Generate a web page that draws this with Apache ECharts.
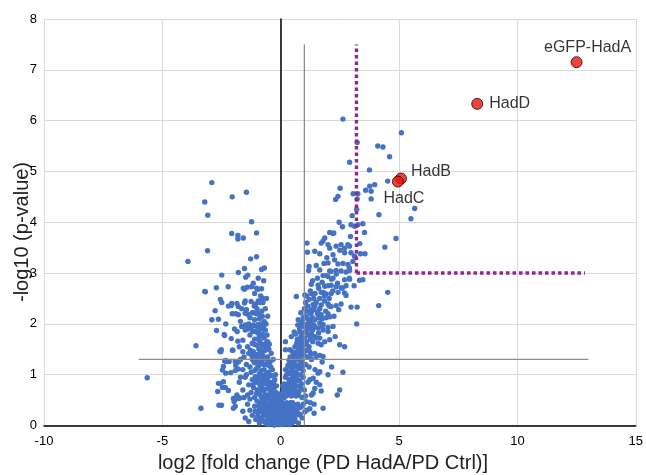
<!DOCTYPE html>
<html><head><meta charset="utf-8">
<script src="https://cdn.jsdelivr.net/npm/echarts@6/dist/echarts.min.js"></script>
<style>html,body{margin:0;padding:0;background:#fff}#c{width:646px;height:475px}</style>
</head><body><div id="c"></div>
<script>
// ---- data ----
const xTitle = 'log2 [fold change (PD HadA/PD Ctrl)]';
const yTitle = '-log10 (p-value)';
const xMin = -10, xMax = 15, xStep = 5;
const yMin = 0, yMax = 8, yStep = 1;

const leftArm = [[-2.91,4.78],[-3.21,4.40],[-3.08,4.14],[-2.05,4.50],[-1.45,4.59],[-1.23,4.01],[-2.07,3.78],[-1.81,3.74],[-1.81,3.67],[-1.58,3.69],[-3.09,3.44],[-3.92,3.23],[-1.27,3.28],[-1.02,3.32],[-0.69,3.10],[-1.53,3.09],[-1.79,3.01],[-2.49,2.96],[-1.48,2.92],[-1.39,2.96],[-1.16,2.80],[-2.72,2.71],[-3.21,2.64],[-3.18,2.63],[-2.22,2.73],[-1.58,2.70],[-1.53,2.68],[-1.41,2.72],[-1.23,2.73],[-1.02,2.70],[-0.95,2.68],[-0.81,2.69],[-0.78,2.51],[-2.55,2.48],[-2.49,2.42],[-2.07,2.40],[-1.53,2.41],[-1.25,2.44],[-1.06,2.39],[-0.87,2.42],[-3.58,1.57],[-5.64,0.94],[-3.37,0.34],[-2.5,0.40],[-2.91,2.08],[-2.77,2.26],[-2.63,2.09],[-2.71,1.87],[-2.39,1.79],[-2.32,2.00],[-2.09,1.71],[-2.02,1.48],[-2.51,1.49],[-2.53,1.45],[-2.28,1.26],[-2.42,1.16],[-2.46,1.09],[-2.11,1.04],[-2.55,0.83],[-2.46,0.75],[-2.66,0.67],[-2.21,0.69],[-1.92,0.54],[-1.95,0.50],[-2.0,0.34],[-1.73,0.54],[-2.21,2.35],[-2.09,2.36],[-1.79,2.34],[-1.90,2.2],[-1.79,2.18],[-1.50,2.21],[-1.39,2.19],[-1.16,2.22],[-1.02,2.2],[-1.65,1.95],[-1.50,1.98],[-1.44,1.93],[-1.37,1.9],[-1.16,1.96],[-0.95,1.99],[-0.74,1.94],[-1.84,1.85],[-1.81,1.66],[-2.37,1.27],[-2.32,1.28],[-2.18,1.26],[-1.92,1.26],[-1.79,1.25],[-1.92,1.08],[-1.79,1.11],[-2.63,0.83],[-2.42,0.86],[-2.34,0.75],[-2.0,0.53],[-1.97,0.47],[-1.79,0.53],[-1.92,0.38],[-2.61,0.40],[-0.81,3.07],[-1.02,3.79],[-2.37,1.77],[-2.57,1.46],[-2.04,1.48],[-2.32,1.03],
[-0.3,0.55],[-0.5,0.6],[-0.7,0.58],[-0.9,0.62],[-1.1,0.55],[-1.25,0.65],[-0.4,0.7],[-0.6,0.72],[-0.8,0.75],[-1.0,0.7],[-1.4,0.6],[-1.6,0.7],[-0.45,0.85],[-0.65,0.82],[-0.85,0.88],[-1.05,0.85],[-1.2,0.9],[-1.35,0.8],[-1.5,0.95],[-0.55,0.95],[-0.75,0.98],[-0.95,0.95],[-1.75,0.85],[-0.25,0.9],[-0.2,0.65],[-1.15,0.75],[-0.35,0.78],[-1.85,0.6],[-1.3,0.52],
[-0.5,1.05],[-0.7,1.1],[-0.9,1.02],[-1.1,1.08],[-1.3,1.15],[-0.6,1.2],[-0.8,1.25],[-1.0,1.22],[-1.2,1.3],[-1.45,1.2],[-1.6,1.1],[-0.55,1.35],[-0.75,1.38],[-0.95,1.4],[-1.15,1.45],[-1.35,1.42],[-1.55,1.35],[-1.7,1.3],[-0.65,1.48],[-0.85,1.5],[-1.05,1.32],[-1.9,1.18],[-0.45,1.25],[-1.25,1.05],
[-0.6,1.55],[-0.8,1.6],[-1.0,1.58],[-1.2,1.62],[-1.4,1.55],[-0.7,1.72],[-0.9,1.75],[-1.1,1.7],[-1.3,1.78],[-1.6,1.68],[-0.65,1.88],[-0.85,1.9],[-1.05,1.85],[-1.25,1.92],[-1.5,1.88],[-1.75,1.55],[-0.75,1.98],[-1.15,1.98],[-1.95,1.9],[-0.55,1.65],
[-0.7,2.05],[-0.9,2.1],[-1.1,2.08],[-1.3,2.12],[-0.8,2.25],[-1.0,2.3],[-1.2,2.22],[-1.45,2.28],[-0.75,2.42],[-0.95,2.45],[-1.7,2.05],[-1.85,2.4],[-2.05,2.2],[-0.65,2.3],[-0.85,2.55],[-1.1,2.6],[-0.72,2.85],[-0.95,2.9]];

const leftCore = [[-0.22,0.52],[-0.32,0.62],[-0.42,0.66],[-0.52,0.53],[-0.62,0.6],[-0.72,0.68],[-0.82,0.55],[-0.92,0.7],[-1.02,0.62],[-0.28,0.74],[-0.48,0.78],[-0.58,0.88],[-0.68,0.92],[-0.78,0.84],[-0.88,0.8],[-0.98,0.9],[-1.08,0.96],[-1.18,0.8],[-0.38,0.98],[-0.3,0.84],[-0.22,1.0],[-0.35,1.1],[-0.42,1.15],[-0.62,1.02],[-0.72,1.2],[-0.82,1.08],[-0.92,1.18],[-1.02,1.12],[-1.12,1.24],[-0.5,1.18],[-0.58,1.3],[-0.68,1.32],[-0.88,1.35],[-0.98,1.28],[-1.08,1.4],[-1.22,1.38],[-0.4,1.42],[-0.5,1.5],[-0.78,1.46],[-0.92,1.5],[-1.28,1.48],[-0.48,1.6],[-0.62,1.62],[-0.72,1.58],[-0.88,1.66],[-0.98,1.7],[-1.12,1.6],[-0.58,1.78],[-0.78,1.8],[-0.96,1.82],[-1.18,1.85],[-0.62,2.0],[-0.82,2.0],[-1.0,1.95],[-0.55,2.15],[-0.78,2.15],[-0.95,2.2],[-1.12,2.35],[-0.6,2.5],[-1.35,2.0],[-1.5,2.45],[-1.65,2.3],[-1.6,1.45],[-1.45,1.0],[-1.55,0.55],[-1.7,0.95],[-0.26,0.58],[-0.18,0.78],[-0.32,1.3]];

const rightArm = [[2.63,6.03],[5.10,5.76],[3.23,5.57],[4.10,5.50],[4.32,5.48],[4.60,5.29],[2.91,5.18],[3.75,5.03],[4.52,4.81],[3.97,4.74],[3.76,4.71],[3.59,4.63],[3.82,4.61],[2.51,4.67],[2.42,4.51],[2.32,4.45],[3.06,4.56],[3.26,4.56],[3.23,4.46],[3.82,4.46],[5.66,4.27],[5.50,4.07],[4.15,4.15],[3.21,4.25],[3.02,4.13],[2.47,4.00],[2.61,3.91],[2.97,3.95],[3.12,3.92],[3.26,3.95],[3.47,3.97],[2.07,3.80],[2.24,3.79],[3.54,3.80],[4.87,3.68],[4.40,3.51],[3.34,3.58],[3.56,3.38],[3.37,3.38],[2.95,3.72],[2.91,3.53],[2.21,3.78],[1.86,3.69],[1.71,3.59],[1.79,3.63],[2.0,3.56],[2.07,3.49],[2.34,3.53],[2.55,3.56],[2.70,3.49],[2.84,3.56],[1.13,3.41],[1.44,3.43],[1.65,3.38],[2.21,3.36],[2.28,3.26],[2.70,3.40],[2.97,3.40],[3.12,3.33],[3.05,3.23],[1.83,3.19],[2.0,3.2],[2.42,3.18],[2.63,3.19],[2.84,3.17],[1.18,3.05],[1.65,3.06],[2.07,3.04],[2.13,3.03],[2.34,3.05],[2.55,3.04],[2.76,3.02],[2.91,3.05],[1.79,2.95],[2.0,2.93],[2.21,2.9],[2.70,2.87],[2.91,2.88],[3.33,2.86],[3.47,2.87],[1.29,2.78],[1.58,2.76],[1.86,2.74],[2.13,2.76],[2.34,2.73],[2.55,2.71],[2.76,2.75],[0.66,2.54],[1.02,2.57],[1.29,2.6],[1.37,2.58],[1.71,2.62],[1.92,2.59],[2.13,2.6],[2.42,2.62],[2.70,2.61],[2.76,2.56],[4.52,2.62],[4.14,2.36],[2.97,2.33],[3.23,2.33],[1.37,2.38],[1.44,2.35],[1.71,2.37],[2.0,2.39],[2.13,2.34],[2.34,2.36],[2.55,2.39],[1.29,2.22],[1.58,2.24],[1.71,2.18],[2.0,2.2],[2.07,2.14],[1.92,2.12],[0.74,2.08],[1.13,2.1],[1.23,2.06],[1.44,2.08],[1.65,2.02],[1.79,1.99],[3.21,2.0],[1.08,1.95],[1.23,1.93],[1.44,1.94],[1.58,1.92],[2.0,1.93],[0.20,1.49],[0.57,1.84],[0.81,1.84],[0.76,1.65],[0.90,1.62],[2.07,1.69],[2.49,1.59],[2.70,1.55],[1.79,1.88],[2.0,1.85],[2.21,1.95],[1.16,1.92],[1.23,1.78],[1.44,1.75],[1.65,1.72],[1.58,1.62],[1.71,1.59],[1.86,1.65],[1.02,1.48],[1.23,1.45],[1.44,1.42],[1.65,1.38],[1.79,1.36],[1.50,1.36],[1.29,1.4],[2.63,1.05],[2.0,1.0],[1.58,1.03],[1.65,1.06],[1.37,0.93],[1.23,0.90],[2.49,0.70],[2.39,0.60],[1.65,0.80],[1.71,0.68],[1.44,0.73],[1.37,0.64],[1.79,0.34],[1.41,0.42],[1.23,0.33],[1.41,0.24],[1.08,0.47],[1.02,0.27],[0.87,0.37],[0.74,0.21],[1.20,3.13],[1.11,3.59],[0.39,1.49],[0.53,1.23],[0.2,1.65],
[0.15,0.55],[0.3,0.6],[0.45,0.58],[0.6,0.65],[0.75,0.6],[0.9,0.55],[0.25,0.75],[0.4,0.72],[0.55,0.8],[0.7,0.78],[0.85,0.75],[1.0,0.7],[0.35,0.9],[0.5,0.95],[0.65,0.92],[0.8,0.88],[0.95,0.95],[1.15,0.85],[1.3,0.6],[0.2,0.95],[1.05,0.58],[1.5,0.85],[0.12,0.7],
[0.35,1.05],[0.5,1.1],[0.65,1.05],[0.8,1.12],[0.95,1.08],[0.45,1.25],[0.6,1.22],[0.75,1.3],[0.9,1.28],[1.05,1.2],[1.2,1.15],[0.55,1.4],[0.7,1.45],[0.85,1.42],[1.0,1.38],[1.15,1.35],[1.3,1.3],[0.4,1.35],[1.1,1.48],[0.3,1.18],[1.45,1.1],[1.75,1.25],[2.15,1.15],
[0.6,1.55],[0.75,1.58],[0.9,1.52],[1.05,1.6],[1.2,1.55],[1.35,1.65],[0.7,1.7],[0.85,1.75],[1.0,1.72],[1.15,1.78],[1.3,1.8],[1.5,1.72],[0.8,1.9],[0.95,1.95],[1.1,1.88],[1.25,1.92],[1.4,1.98],[1.6,1.82],[1.75,1.95],[0.45,1.75],[2.3,1.75],
[0.9,2.05],[1.05,2.15],[1.2,2.08],[1.35,2.12],[1.55,2.2],[1.75,2.1],[1.9,2.25],[1.0,2.3],[1.15,2.35],[1.3,2.28],[1.5,2.42],[1.65,2.3],[1.85,2.45],[2.05,2.35],[2.25,2.15],[2.45,2.28],[0.85,2.22],
[1.1,2.55],[1.25,2.65],[1.45,2.6],[1.6,2.7],[1.8,2.62],[2.0,2.75],[2.2,2.65],[2.4,2.8],[2.6,2.7],[1.35,2.85],[1.55,2.9],[1.75,2.82],[1.95,2.95],[2.15,2.88],[2.35,2.98],[2.9,2.9],[3.1,2.75],[1.5,3.15],[1.95,3.3],[2.5,3.45],[2.9,3.1]];

const rightCore = [[0.05,0.55],[0.1,0.62],[0.18,0.68],[0.22,0.58],[0.28,0.66],[0.35,0.7],[0.42,0.64],[0.5,0.68],[0.58,0.72],[0.65,0.58],[0.08,0.78],[0.15,0.82],[0.3,0.82],[0.38,0.8],[0.45,0.88],[0.52,0.84],[0.6,0.86],[0.72,0.9],[0.78,0.68],[0.88,0.82],[0.25,1.0],[0.4,1.02],[0.55,1.02],[0.7,1.0],[0.85,1.0],[0.2,1.1],[0.38,1.15],[0.52,1.18],[0.68,1.15],[0.82,1.2],[0.95,1.18],[0.48,1.32],[0.62,1.32],[0.8,1.35],[0.92,1.4],[0.65,1.38],[0.35,1.28],[0.5,1.45],[0.78,1.5],[0.98,1.45],
[0.68,1.62],[0.82,1.65],[0.95,1.68],[1.1,1.65],[1.25,1.7],[0.62,1.8],[0.92,1.82],[1.05,1.85],[1.2,1.9],[1.35,1.88],[0.72,1.98],[0.88,2.0],[1.12,2.0],[1.28,2.02],[0.95,2.12],[1.1,2.25],[1.25,2.2],[1.4,2.28],[1.6,2.12],[1.05,2.42],[1.2,2.48],[1.4,2.5],[1.65,2.5],[1.85,2.55],[2.05,2.5]];

const centerCluster = [[-0.05,0.02],[-0.12,0.05],[-0.2,0.03],[-0.3,0.08],[-0.08,0.12],[-0.18,0.15],[-0.35,0.12],[-0.45,0.05],[-0.55,0.1],[-0.25,0.2],[-0.1,0.22],[-0.4,0.25],[-0.6,0.18],[-0.7,0.08],[-0.15,0.3],[-0.3,0.32],[-0.5,0.3],[-0.65,0.28],[-0.8,0.15],[-0.9,0.05],[-0.02,0.35],[-0.22,0.4],[-0.42,0.38],[-0.58,0.42],[-0.75,0.35],[-0.95,0.25],[-1.05,0.12],[-1.2,0.2],[-1.35,0.08],[-0.85,0.45],[-1.1,0.38],[-1.3,0.3],[-1.5,0.15],[-0.33,0.48],[-0.12,0.46],[-0.68,0.5],[-0.05,0.1],[-0.28,0.01],[-0.5,0.02],[-0.62,0.04],[-0.16,0.08],[-0.38,0.18],[-0.02,0.18],[-0.9,0.32],[-1.4,0.42],[-1.0,0.48],[-1.6,0.28],
[0.02,0.05],[0.08,0.1],[0.15,0.04],[0.22,0.12],[0.05,0.2],[0.12,0.25],[0.3,0.18],[0.38,0.08],[0.45,0.22],[0.18,0.35],[0.28,0.3],[0.4,0.38],[0.55,0.3],[0.6,0.12],[0.7,0.25],[0.1,0.42],[0.25,0.45],[0.5,0.45],[0.65,0.4],[0.8,0.35],[0.9,0.15],[0.95,0.42],[1.1,0.3],[0.35,0.02],[0.03,0.3],[0.48,0.05],[0.75,0.05],[0.2,0.2],[1.25,0.45],
[-0.02,0.06],[0.0,0.14],[-0.06,0.28],[0.06,0.35],[-0.18,0.1],[0.1,0.02],[-0.1,0.38],[0.16,0.15],[-0.24,0.28],[0.26,0.05],[0.04,0.5],[-0.14,0.55],[0.12,0.6],[-0.04,0.62],
[-0.02,0.25],[-0.08,0.32],[-0.14,0.18],[-0.2,0.25],[-0.26,0.12],[-0.32,0.22],[-0.38,0.3],[-0.44,0.15],[-0.5,0.38],[-0.56,0.2],[-0.62,0.32],[-0.68,0.42],[-0.74,0.2],[-0.8,0.28],[-0.86,0.1],[-0.92,0.4],[-0.98,0.18],[-1.08,0.28],[-0.15,0.42],[-0.28,0.45],[-0.45,0.46],[-0.72,0.48],[-0.05,0.45],[0.02,0.4],[0.08,0.28],[0.14,0.38],[0.2,0.3],[0.26,0.22],[0.32,0.38],[0.38,0.3],[0.44,0.12],[0.5,0.25],[0.56,0.38],[0.62,0.2],[0.04,0.12],[0.1,0.18],[0.16,0.08],[0.24,0.38],[0.3,0.08],[0.36,0.2],[0.42,0.45],[0.52,0.15],[0.58,0.08],[0.66,0.32],[0.72,0.42],[0.82,0.22],[-0.36,0.05],[-0.24,0.06],[-0.1,0.15],[0.0,0.22]];

const hitNames = ['eGFP-HadA','HadD','HadB','HadC'];
const hitX = [12.5, 8.3, 5.08, 4.95];
const hitY = [7.15, 6.33, 4.86, 4.80];

const pCutLine = [[-6,1.3],[13,1.3]];
const fcCutLine = [[1,0],[1,7.5]];
const boxV = [[3.2,3],[3.2,7.5]];
const boxH = [[3.2,3],[12.85,3]];

// ---- chart ----
const chart = echarts.init(document.getElementById('c'));
const labelPos = {
  'eGFP-HadA': {position:'top', distance:6, offset:[11,5]},
  'HadD': {position:'right', distance:6},
  'HadB': {position:'right', distance:4, offset:[0,-7]},
  'HadC': {position:'bottom', distance:3, offset:[6,0]}
};
const hits = hitNames.map((n,i)=>({name:n, value:[hitX[i],hitY[i]],
  label:Object.assign({show:true, formatter:n, color:'#000', fontSize:16, fontFamily:'Liberation Sans'}, labelPos[n])}));

const grayLine = (d)=>({type:'line', data:d, symbol:'none', silent:true, z:3,
  lineStyle:{color:'#8c8c8c', width:1.3}});
const purpleLine = (d)=>({type:'line', data:d, symbol:'none', silent:true, z:4,
  lineStyle:{color:'#93278f', width:3.4, type:[3.6,2.9]}});

chart.setOption({
  animation:false,
  grid:{left:44, right:6, top:19, bottom:49.5, containLabel:false},
  xAxis:{type:'value', min:xMin, max:xMax, interval:xStep,
    axisLine:{onZero:true, lineStyle:{color:'#000', width:1.5}},
    axisTick:{show:false},
    axisLabel:{color:'#000', fontSize:13, fontFamily:'Liberation Sans', margin:9, showMinLabel:true, showMaxLabel:true},
    splitLine:{show:true, lineStyle:{color:'#d9d9d9', width:1}}},
  yAxis:{type:'value', min:yMin, max:yMax, interval:yStep,
    axisLine:{show:true, onZero:true, lineStyle:{color:'#000', width:1.5}},
    axisTick:{show:false},
    axisLabel:{color:'#000', fontSize:13, fontFamily:'Liberation Sans', margin:7, showMinLabel:true, showMaxLabel:true},
    splitLine:{show:true, lineStyle:{color:'#d9d9d9', width:1}}},
  graphic:[
    {type:'text', x:323, y:463, style:{text:xTitle, font:'20px "Liberation Sans"', fill:'#222', textAlign:'center', textVerticalAlign:'middle'}},
    {type:'text', x:22, y:232, rotation:Math.PI/2, style:{text:yTitle, font:'20px "Liberation Sans"', fill:'#222', textAlign:'center', textVerticalAlign:'middle'}}
  ],
  series:[
    {type:'scatter', data:leftArm.concat(leftCore, rightArm, rightCore, centerCluster), symbolSize:5.4, z:2,
      itemStyle:{color:'#4472c4', opacity:1}},
    grayLine(pCutLine), grayLine(fcCutLine),
    purpleLine(boxV), purpleLine(boxH),
    {type:'scatter', data:hits, symbolSize:11, z:5,
      itemStyle:{color:'#e8150f', borderColor:'#2a0000', borderWidth:1}}
  ]
});
</script></body></html>
